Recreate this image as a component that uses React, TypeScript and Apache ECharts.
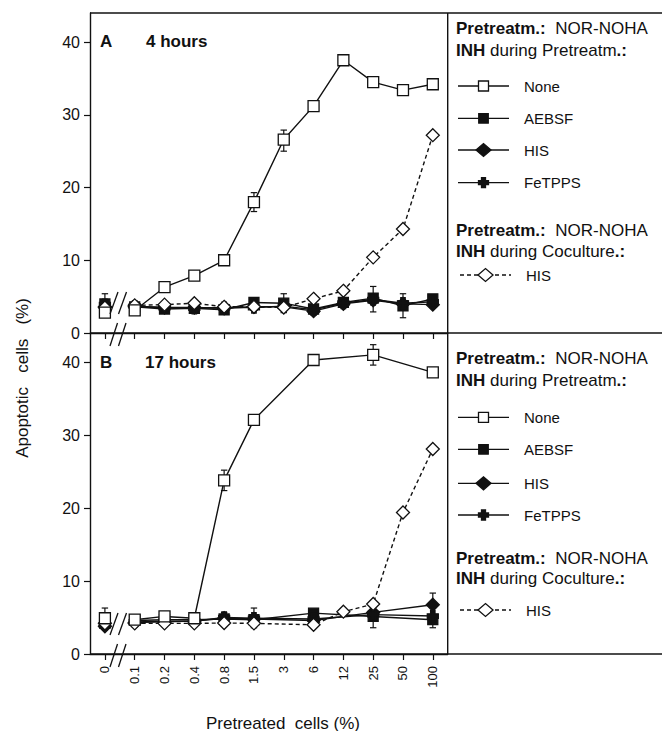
import React, { useEffect, useRef } from "react";
import * as echarts from "echarts";

// ---------- data ----------
const categories = ["0", "0.1", "0.2", "0.4", "0.8", "1.5", "3", "6", "12", "25", "50", "100"];
const yTicks = [0, 10, 20, 30, 40];
const seriesNames = ["None", "AEBSF", "HIS", "FeTPPS", "HIS"];

// Panel A (4 hours)
const aNone = [2.8, 3.1, 6.3, 7.9, 10.0, 18.0, 26.6, 31.2, 37.5, 34.5, 33.4, 34.2];
const aAebsf = [4.0, 3.6, 3.3, 3.4, 3.2, 4.2, 4.1, 3.3, 4.2, 4.8, 3.75, 4.7];
const aHis = [3.6, 3.6, 3.5, 3.5, 3.4, 3.6, 3.6, 3.0, 4.0, 4.5, 4.0, 3.9];
const aFetpps = [3.9, 3.7, 3.5, 3.4, 3.5, 3.5, 3.7, 3.2, 4.1, 4.6, 4.1, 4.3];
const aHisCo = [3.5, 3.8, 3.9, 4.1, 3.6, 3.6, 3.5, 4.7, 5.8, 10.4, 14.3, 27.2];
// error bars: [category index, low, high]
const aErrors = [
  [0, 3.8, 5.4],
  [5, 16.7, 19.3],
  [6, 25.0, 27.9],
  [6, 2.8, 5.4],
  [9, 2.9, 6.4],
  [10, 2.1, 5.4],
];

// Panel B (17 hours)
const bNone = [4.9, 4.7, 5.15, 4.9, 23.8, 32.1, null, 40.3, null, 41.0, null, 38.6];
const bAebsf = [4.2, 4.6, 4.7, 4.7, 4.8, 4.7, null, 5.6, null, 5.15, null, 4.7];
const bHis = [3.8, 4.3, 4.4, 4.5, 4.9, 4.8, null, 4.6, null, 5.7, null, 6.75];
const bFetpps = [4.0, 4.4, 4.5, 4.5, 5.0, 4.9, null, 4.8, null, 5.4, null, 5.2];
const bHisCo = [4.2, 4.2, 4.2, 4.2, 4.25, 4.2, null, 4.0, 5.8, 6.85, 19.4, 28.1];
const bErrors = [
  [0, 4.9, 6.3],
  [4, 22.4, 25.2],
  [9, 39.6, 42.4],
  [4, 4.0, 5.7],
  [5, 3.6, 6.3],
  [9, 3.6, 5.7],
  [11, 3.6, 8.35],
];

// ---------- styles ----------
const FONT = '"Liberation Sans", Arial, Helvetica, sans-serif';
const INK = "#111111";
const PLUS = "path://M3,0H7V3H10V7H7V10H3V7H0V3H3Z";
const markStyles = [
  { symbol: "rect", size: 11, fill: "#fff", dashed: false },
  { symbol: "rect", size: 10, fill: INK, dashed: false },
  { symbol: "diamond", size: 13, fill: INK, dashed: false },
  { symbol: PLUS, size: 11, fill: INK, dashed: false },
  { symbol: "diamond", size: 13, fill: "#fff", dashed: true },
];

const GRID_LEFT = 90;
const GRID_RIGHT = 447.7;
const PANEL_TOPS = [13, 333];
const PANEL_HEIGHTS = [320, 321];
const LW = 1.4;

function panelSeries(p: number, data: (number | null)[][], errors: number[][]) {
  const out: any[] = [];
  out.push({
    type: "custom",
    xAxisIndex: p,
    yAxisIndex: p,
    z: 1,
    silent: true,
    data: errors,
    encode: { x: 0, y: [1, 2] },
    renderItem: (params: any, api: any) => {
      const x = api.value(0);
      const top = api.coord([x, api.value(2)]);
      const bot = api.coord([x, api.value(1)]);
      const st = { stroke: INK, lineWidth: 1.2 };
      const w = 3.2;
      return {
        type: "group",
        children: [
          { type: "line", shape: { x1: top[0], y1: top[1], x2: bot[0], y2: bot[1] }, style: st },
          { type: "line", shape: { x1: top[0] - w, y1: top[1], x2: top[0] + w, y2: top[1] }, style: st },
          { type: "line", shape: { x1: bot[0] - w, y1: bot[1], x2: bot[0] + w, y2: bot[1] }, style: st },
        ],
      };
    },
  });
  const order = [1, 2, 3, 4, 0];
  order.forEach((k, zi) => {
    const st = markStyles[k];
    const vals = data[k];
    const common = {
      xAxisIndex: p,
      yAxisIndex: p,
      symbol: st.symbol,
      symbolSize: st.size,
      itemStyle: { color: st.fill, borderColor: INK, borderWidth: 1.3, opacity: 1 },
      z: 3 + zi,
      silent: true,
    };
    out.push({
      ...common,
      type: "line",
      name: seriesNames[k],
      data: vals.map((v, i) => (i === 0 || v == null ? "-" : v)),
      connectNulls: true,
      showAllSymbol: true,
      lineStyle: { color: INK, width: LW, type: st.dashed ? [4, 3] : "solid" },
    });
    out.push({
      ...common,
      type: "scatter",
      name: seriesNames[k] + " 0",
      data: [[0, vals[0]]],
    });
  });
  return out;
}

function txt(x: number, y: number, text: string, size: number, extra: any = {}) {
  return {
    type: "text",
    x,
    y,
    silent: true,
    z: 50,
    style: {
      text,
      fontSize: size,
      fontFamily: FONT,
      fill: INK,
      align: "left",
      verticalAlign: "middle",
      rich: {
        b: { fontWeight: "bold", fontSize: size, fontFamily: FONT, fill: INK },
      },
      ...extra,
    },
  };
}

function line(x1: number, y1: number, x2: number, y2: number, w = 1.4, dash: any = null) {
  const style: any = { stroke: INK, lineWidth: w };
  if (dash) style.lineDash = dash;
  return { type: "line", silent: true, z: 40, shape: { x1, y1, x2, y2 }, style };
}

function legendSymbol(k: number, cx: number, cy: number) {
  const st = markStyles[k];
  const style = { fill: st.fill, stroke: INK, lineWidth: 1.3 };
  if (st.symbol === "rect") {
    const s = k === 0 ? 10 : 9.5;
    return { type: "rect", z: 45, silent: true, shape: { x: cx - s / 2, y: cy - s / 2, width: s, height: s }, style };
  }
  if (st.symbol === "diamond") {
    return {
      type: "polygon",
      z: 45,
      silent: true,
      shape: { points: [[cx - 7.5, cy], [cx, cy - 6.5], [cx + 7.5, cy], [cx, cy + 6.5]] },
      style,
    };
  }
  const a = 2, b = 5;
  return {
    type: "polygon",
    z: 45,
    silent: true,
    shape: {
      points: [
        [cx - a, cy - b], [cx + a, cy - b], [cx + a, cy - a], [cx + b, cy - a], [cx + b, cy + a], [cx + a, cy + a],
        [cx + a, cy + b], [cx - a, cy + b], [cx - a, cy + a], [cx - b, cy + a], [cx - b, cy - a], [cx - a, cy - a],
      ],
    },
    style,
  };
}

function legendBlock(ys: number[]) {
  // ys: header1, header2, entry0..3, header3, header4, entryCo
  const els: any[] = [];
  const hx = 456;
  els.push(txt(hx, ys[0], "{b|Pretreatm.:}  NOR-NOHA", 17));
  els.push(txt(hx, ys[1], "{b|INH} during Pretreatm{b|.:}", 17));
  [0, 1, 2, 3].forEach((k, i) => {
    const y = ys[2 + i];
    els.push(line(458, y, 509, y, 1.3));
    els.push(legendSymbol(k, 483.5, y));
    els.push(txt(524, y, seriesNames[k], 15));
  });
  els.push(txt(hx, ys[6], "{b|Pretreatm.:}  NOR-NOHA", 17));
  els.push(txt(hx, ys[7], "{b|INH} during Coculture{b|.:}", 17));
  const y = ys[8];
  els.push(line(460, y, 511, y, 1.3, [4, 3]));
  els.push(legendSymbol(4, 485.5, y));
  els.push(txt(526, y, seriesNames[4], 15));
  return els;
}

function breakMarks(axisY: number) {
  const els: any[] = [];
  [0, 8.5].forEach((dx) => {
    els.push(line(110 + dx, axisY - 19, 118 + dx, axisY - 41, 1.3));
    els.push(line(110 + dx, axisY + 13, 117.5 + dx, axisY - 10, 1.3));
  });
  return els;
}

export default function App() {
  const ref = useRef<HTMLDivElement>(null);

  useEffect(() => {
    if (!ref.current) return;
    const chart = echarts.init(ref.current, undefined, { renderer: "svg" });

    const grids = PANEL_TOPS.map((top, i) => ({
      left: GRID_LEFT,
      top,
      width: GRID_RIGHT - GRID_LEFT,
      height: PANEL_HEIGHTS[i],
      containLabel: false,
    }));

    const xAxes = [0, 1].map((i) => ({
      type: "category",
      gridIndex: i,
      data: categories,
      boundaryGap: true,
      axisLine: { show: true, lineStyle: { color: INK, width: 1.4 } },
      axisTick: { show: true, alignWithLabel: true, length: 6, lineStyle: { color: INK, width: 1.2 } },
      axisLabel: {
        show: i === 1,
        rotate: 90,
        margin: 12,
        fontSize: 13,
        fontFamily: FONT,
        color: INK,
        interval: 0,
      },
      splitLine: { show: false },
    }));

    const yAxes = [0, 1].map((i) => ({
      type: "value",
      gridIndex: i,
      min: 0,
      max: 44,
      interval: 10,
      axisLine: { show: true, lineStyle: { color: INK, width: 1.4 } },
      axisTick: { show: true, length: 6, customValues: yTicks, lineStyle: { color: INK, width: 1.2 } },
      axisLabel: {
        show: true,
        customValues: yTicks,
        margin: 10,
        fontSize: 16,
        fontFamily: FONT,
        color: INK,
      },
      splitLine: { show: false },
    }));

    const series = [
      ...panelSeries(0, [aNone, aAebsf, aHis, aFetpps, aHisCo], aErrors),
      ...panelSeries(1, [bNone, bAebsf, bHis, bFetpps, bHisCo], bErrors),
    ];

    const graphic: any[] = [
      // frame
      line(GRID_LEFT, 13, 662, 13),
      line(GRID_LEFT, 333, 662, 333),
      line(GRID_LEFT, 654, 662, 654),
      line(GRID_RIGHT, 13, GRID_RIGHT, 654),
      // axis breaks
      ...breakMarks(333),
      ...breakMarks(654),
      // panel titles
      txt(100, 41, "{b|A}", 17),
      txt(146, 41, "{b|4 hours}", 17),
      txt(100, 362, "{b|B}", 17),
      txt(145, 362, "{b|17 hours}", 17),
      // legends
      ...legendBlock([28, 50, 86, 118.3, 150, 182.7, 230, 251.7, 275]),
      ...legendBlock([358.3, 380, 417.3, 449.3, 483.3, 515, 558.3, 578.3, 610]),
      // axis names
      txt(283, 723, "Pretreated  cells (%)", 17, { align: "center" }),
      {
        type: "text",
        x: 22,
        y: 378,
        rotation: Math.PI / 2,
        silent: true,
        style: {
          text: "Apoptotic   cells   (%)",
          fontSize: 17,
          fontFamily: FONT,
          fill: INK,
          align: "center",
          verticalAlign: "middle",
        },
      },
    ];

    chart.setOption({
      animation: false,
      backgroundColor: "#fff",
      grid: grids,
      xAxis: xAxes,
      yAxis: yAxes,
      series,
      graphic,
    });

    return () => chart.dispose();
  }, []);

  return (
    <div
      ref={ref}
      style={{ position: "fixed", left: 0, top: 0, width: 662, height: 731, background: "#fff" }}
    />
  );
}
